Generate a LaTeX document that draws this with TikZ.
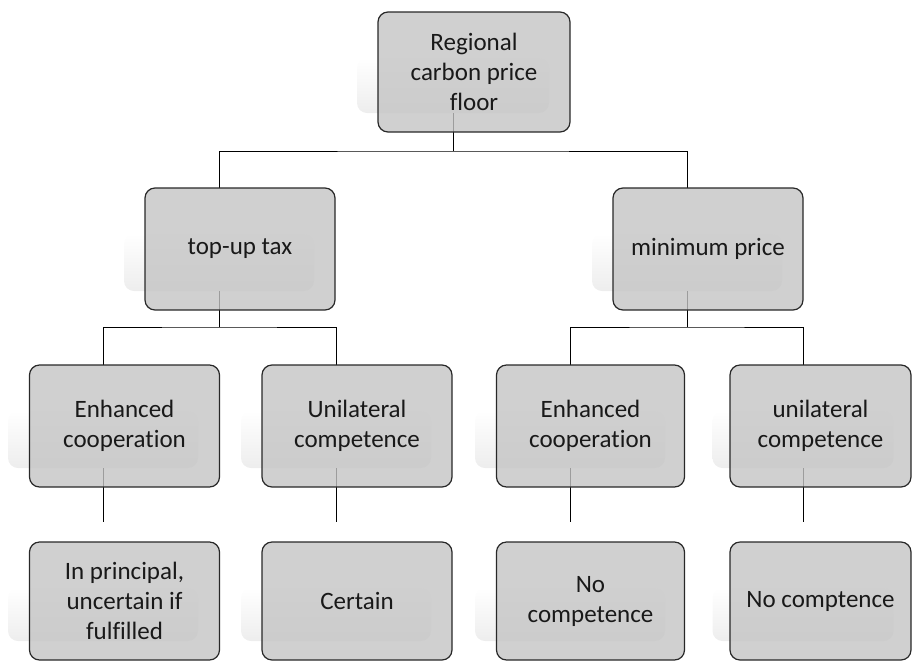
\documentclass[tikz,border=0pt]{standalone}
\usepackage{fontspec}
\setmainfont{Carlito}[Ligatures={NoCommon}]
\usetikzlibrary{calc}
\definecolor{boxfill}{RGB}{196,196,196}
\definecolor{boxline}{RGB}{40,40,40}
\definecolor{txt}{RGB}{25,25,25}
\tikzset{
  shadowbox/.style={rectangle, rounded corners=10pt, top color=white, bottom color=black!7, draw=none, inner sep=0pt},
  mainbox/.style={rectangle, rounded corners=10pt, draw=boxline, line width=1.2pt, fill=boxfill, fill opacity=0.8, text opacity=1, text=txt, inner sep=2pt, align=center, font=\fontsize{25}{30}\selectfont},
  conn/.style={draw=black, line width=1pt},
}
\begin{document}
\begin{tikzpicture}[x=1pt,y=-1pt]
\useasboundingbox (0,0) rectangle (913,662);
% shadows
\node[shadowbox, minimum width=192pt, minimum height=55pt] (s1) at (453,85.5) {};
\node[shadowbox, minimum width=190pt, minimum height=57pt] (s2a) at (219,262.5) {};
\node[shadowbox, minimum width=190pt, minimum height=57pt] (s2b) at (687,262.5) {};
\node[shadowbox, minimum width=190pt, minimum height=57pt] (s3a) at (103,439.5) {};
\node[shadowbox, minimum width=190pt, minimum height=57pt] (s3b) at (336,439.5) {};
\node[shadowbox, minimum width=190pt, minimum height=57pt] (s3c) at (570,439.5) {};
\node[shadowbox, minimum width=181pt, minimum height=57pt] (s3d) at (803,439.5) {};
\node[shadowbox, minimum width=190pt, minimum height=53pt] (s4a) at (103,614.5) {};
\node[shadowbox, minimum width=190pt, minimum height=53pt] (s4b) at (336,614.5) {};
\node[shadowbox, minimum width=190pt, minimum height=53pt] (s4c) at (570,614.5) {};
\node[shadowbox, minimum width=181pt, minimum height=53pt] (s4d) at (803,614.5) {};
% junction and end coordinates
\coordinate (j1) at (453,151);
\coordinate (j2a) at (219,327);
\coordinate (j2b) at (687,327);
\coordinate (e3a) at (103,522);
\coordinate (e3b) at (336,522);
\coordinate (e3c) at (570,522);
\coordinate (e3d) at (803,522);
% connectors
\draw[conn] (s1.south) -- (j1);
\draw[conn] (219,188) coordinate (t2a) |- (j1) -| (687,188) coordinate (t2b);
\draw[conn] (s2a.south) -- (j2a);
\draw[conn] (s2b.south) -- (j2b);
\draw[conn] (103,365) coordinate (t3a) |- (j2a) -| (336,365) coordinate (t3b);
\draw[conn] (570,365) coordinate (t3c) |- (j2b) -| (803,365) coordinate (t3d);
\draw[conn] (s3a.south) -- (e3a);
\draw[conn] (s3b.south) -- (e3b);
\draw[conn] (s3c.south) -- (e3c);
\draw[conn] (s3d.south) -- (e3d);
% main boxes
\node[mainbox, minimum width=192pt, minimum height=120pt] (b1) at (474,72) {Regional\\carbon price\\floor};
\node[mainbox, minimum width=190pt, minimum height=122pt] (b2a) at (240,249) {top-up tax};
\node[mainbox, minimum width=190pt, minimum height=122pt] (b2b) at (708,249) {minimum price};
\node[mainbox, minimum width=190pt, minimum height=122pt] (b3a) at (124.5,426) {Enhanced\\cooperation};
\node[mainbox, minimum width=190pt, minimum height=122pt] (b3b) at (357,426) {Unilateral\\competence};
\node[mainbox, minimum width=188pt, minimum height=122pt] (b3c) at (590.5,426) {Enhanced\\cooperation};
\node[mainbox, minimum width=181pt, minimum height=122pt] (b3d) at (820.5,426) {unilateral\\competence};
\node[mainbox, minimum width=190pt, minimum height=118pt] (b4a) at (124.5,601) {In principal,\\uncertain if\\fulfilled};
\node[mainbox, minimum width=190pt, minimum height=118pt] (b4b) at (357,601) {Certain};
\node[mainbox, minimum width=188pt, minimum height=118pt] (b4c) at (590.5,601) {No\\competence};
\node[mainbox, minimum width=181pt, minimum height=118pt] (b4d) at (820.5,601) {No comptence};
\end{tikzpicture}
\end{document}
